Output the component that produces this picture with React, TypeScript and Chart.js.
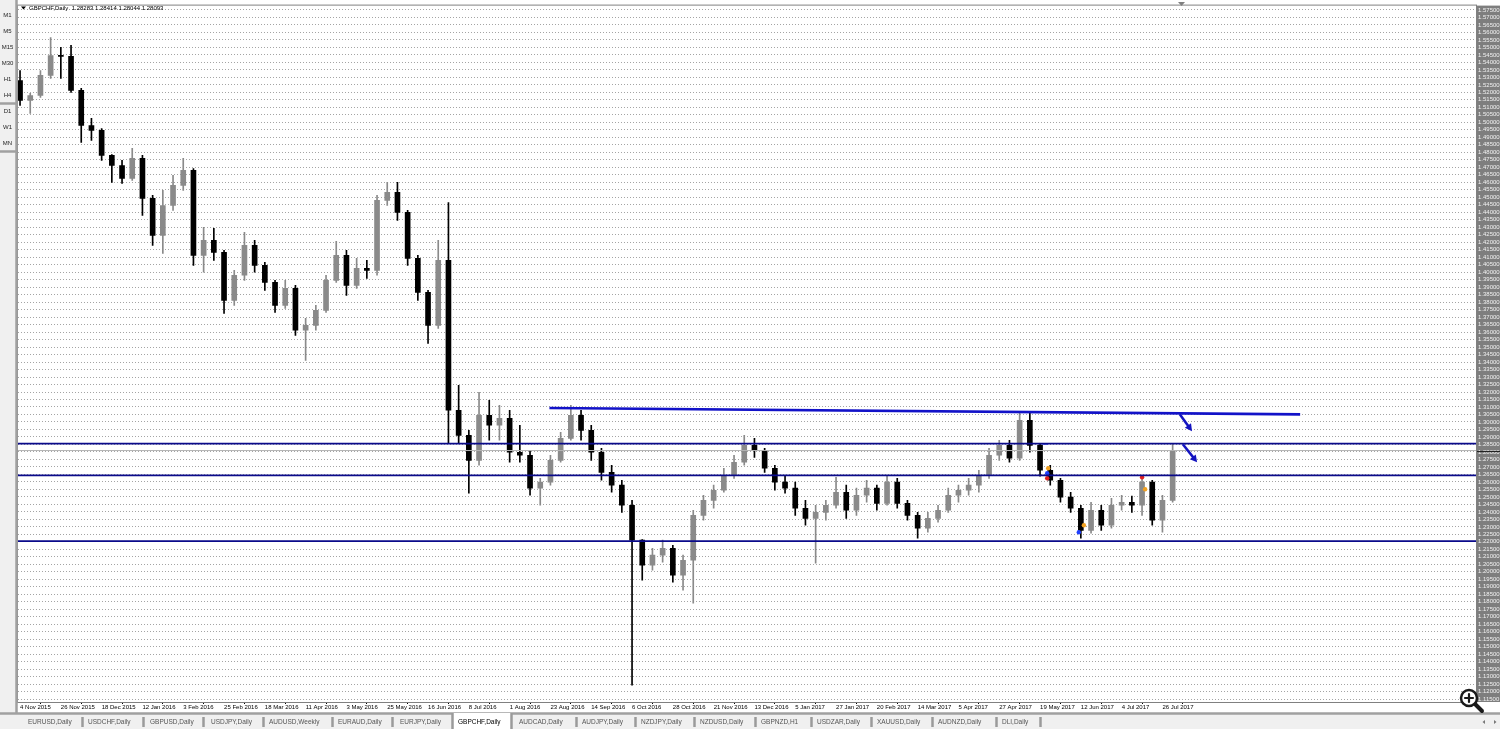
import React, { useEffect, useRef } from "react";
import { Chart, registerables } from "chart.js";

Chart.register(...registerables);

const FONT = "'Liberation Sans', Arial, sans-serif";

// ---- Data (GBPCHF daily, aggregated) ----
const openP = [
  1.5279, 1.5146, 1.5179, 1.5313, 1.5446, 1.544, 1.5213, 1.4979, 1.4946, 1.4779,
  1.4712, 1.4626, 1.4759, 1.4492, 1.4245, 1.4445, 1.4579, 1.4679, 1.4112, 1.4212,
  1.4132, 1.3812, 1.3979, 1.4179, 1.4045, 1.3932, 1.3778, 1.3892, 1.3612, 1.3645,
  1.3745, 1.3945, 1.4112, 1.3912, 1.4025, 1.4012, 1.4479, 1.4532, 1.4399, 1.4092,
  1.3865, 1.3645, 1.4079, 1.3078, 1.2911, 1.2744, 1.3045, 1.2978, 1.3025, 1.2798,
  1.2778, 1.2558, 1.2598, 1.2744, 1.2891, 1.3045, 1.2944, 1.2798, 1.2664, 1.2578,
  1.2444, 1.2211, 1.2044, 1.2111, 1.2157, 1.1977, 1.2077, 1.2377, 1.2477, 1.2544,
  1.2644, 1.2731, 1.2844, 1.2811, 1.2691, 1.2598, 1.2558, 1.2424, 1.2357, 1.2397,
  1.2444, 1.2531, 1.2411, 1.2511, 1.2558, 1.2457, 1.2598, 1.2457, 1.2377, 1.2291,
  1.2357, 1.2411, 1.2511, 1.2544, 1.2578, 1.2644, 1.2778, 1.2844, 1.2758, 1.3011,
  1.2844, 1.2678, 1.2611, 1.2498, 1.2424, 1.2277, 1.2411, 1.2311, 1.2444, 1.2464,
  1.2444, 1.2598, 1.2344, 1.2477,
];
const highP = [
  1.5346, 1.5193, 1.5346, 1.5566, 1.55, 1.5513, 1.5226, 1.5026, 1.4959, 1.4785,
  1.4746, 1.4826, 1.4779, 1.4512, 1.4546, 1.4646, 1.4759, 1.4692, 1.4299, 1.4292,
  1.4145, 1.4012, 1.4265, 1.4212, 1.4065, 1.3945, 1.3945, 1.3912, 1.3692, 1.3778,
  1.3979, 1.4205, 1.4145, 1.4092, 1.4079, 1.4512, 1.4599, 1.4599, 1.4412, 1.4112,
  1.3878, 1.4212, 1.4465, 1.3245, 1.2944, 1.3198, 1.3145, 1.3111, 1.3078, 1.2978,
  1.2811, 1.2624, 1.2778, 1.2931, 1.3111, 1.3078, 1.2978, 1.2824, 1.2711, 1.2611,
  1.2477, 1.2215, 1.2157, 1.2211, 1.2177, 1.2111, 1.2411, 1.2511, 1.2578, 1.2691,
  1.2778, 1.2911, 1.2891, 1.2824, 1.2711, 1.2644, 1.2598, 1.2477, 1.2444, 1.2477,
  1.2631, 1.2578, 1.2558, 1.2611, 1.2578, 1.2644, 1.2624, 1.2477, 1.2397, 1.2397,
  1.2444, 1.2558, 1.2578, 1.2624, 1.2678, 1.2824, 1.2878, 1.2878, 1.3058, 1.3058,
  1.2858, 1.2711, 1.2624, 1.2531, 1.2444, 1.2464, 1.2444, 1.2491, 1.2511, 1.2505,
  1.2638, 1.2611, 1.2511, 1.2851,
];
const lowP = [
  1.5113, 1.5059, 1.5166, 1.5293, 1.5293, 1.5199, 1.4866, 1.4879, 1.4746, 1.4599,
  1.4592, 1.4612, 1.4379, 1.4179, 1.4125, 1.4412, 1.4546, 1.4045, 1.3999, 1.4079,
  1.3725, 1.3778, 1.3945, 1.3999, 1.3878, 1.3732, 1.3758, 1.3578, 1.3411, 1.3612,
  1.3732, 1.3932, 1.3845, 1.3892, 1.3958, 1.3979, 1.4445, 1.4345, 1.4045, 1.3812,
  1.3525, 1.3625, 1.2858, 1.2858, 1.2524, 1.2711, 1.2878, 1.2878, 1.2731, 1.2731,
  1.2511, 1.2444, 1.2578, 1.2731, 1.2878, 1.2878, 1.2744, 1.2611, 1.2531, 1.2397,
  1.1243, 1.1944, 1.2011, 1.2064, 1.193, 1.1877, 1.179, 1.2344, 1.2424, 1.2531,
  1.2624, 1.2711, 1.2764, 1.2664, 1.2544, 1.2524, 1.2377, 1.2311, 1.2057, 1.2344,
  1.2424, 1.2357, 1.2377, 1.2464, 1.2411, 1.2444, 1.2424, 1.2344, 1.2224, 1.2264,
  1.2331, 1.2397, 1.2464, 1.2511, 1.2531, 1.2624, 1.2744, 1.2731, 1.2744, 1.2798,
  1.2638, 1.2578, 1.2464, 1.2397, 1.2224, 1.2257, 1.2277, 1.2291, 1.2411, 1.2397,
  1.2377, 1.2311, 1.2264, 1.2464,
];
const closeP = [
  1.5146, 1.5179, 1.5313, 1.5446, 1.544, 1.5213, 1.4979, 1.4946, 1.4779, 1.4712,
  1.4626, 1.4759, 1.4492, 1.4245, 1.4445, 1.4579, 1.4679, 1.4112, 1.4212, 1.4132,
  1.3812, 1.3979, 1.4179, 1.4045, 1.3932, 1.3778, 1.3892, 1.3612, 1.3645, 1.3745,
  1.3945, 1.4112, 1.3912, 1.4025, 1.4012, 1.4479, 1.4532, 1.4399, 1.4092, 1.3865,
  1.3645, 1.4079, 1.3078, 1.2911, 1.2744, 1.3045, 1.2978, 1.3025, 1.2798, 1.2778,
  1.2558, 1.2598, 1.2744, 1.2891, 1.3045, 1.2944, 1.2798, 1.2664, 1.2578, 1.2444,
  1.2211, 1.2044, 1.2111, 1.2157, 1.1977, 1.2077, 1.2377, 1.2477, 1.2544, 1.2644,
  1.2731, 1.2844, 1.2811, 1.2691, 1.2598, 1.2558, 1.2424, 1.2357, 1.2397, 1.2444,
  1.2531, 1.2411, 1.2511, 1.2558, 1.2457, 1.2598, 1.2457, 1.2377, 1.2291, 1.2357,
  1.2411, 1.2511, 1.2544, 1.2578, 1.2644, 1.2778, 1.2844, 1.2758, 1.3011, 1.2844,
  1.2678, 1.2611, 1.2498, 1.2424, 1.2277, 1.2411, 1.2311, 1.2444, 1.2464, 1.2444,
  1.2598, 1.2344, 1.2477, 1.2809,
];

const xTickBars = [0, 4, 8, 12, 16, 20, 24, 28, 32, 36, 40, 44, 48, 52, 56, 60, 64, 68, 72, 76, 80, 84, 88, 92, 96, 100, 104, 108, 112];
const xTickLabels = [
  "4 Nov 2015", "26 Nov 2015", "18 Dec 2015", "12 Jan 2016", "3 Feb 2016", "25 Feb 2016",
  "18 Mar 2016", "11 Apr 2016", "3 May 2016", "25 May 2016", "16 Jun 2016", "8 Jul 2016",
  "1 Aug 2016", "23 Aug 2016", "14 Sep 2016", "6 Oct 2016", "28 Oct 2016", "21 Nov 2016",
  "13 Dec 2016", "5 Jan 2017", "27 Jan 2017", "20 Feb 2017", "14 Mar 2017", "5 Apr 2017",
  "27 Apr 2017", "19 May 2017", "12 Jun 2017", "4 Jul 2017", "26 Jul 2017",
];

const X_MIN = -0.2;
const X_MAX = 142.74;
const Y_MIN = 1.1131;
const Y_MAX = 1.5779;
const Y_STEP = 0.005;

const levelPrices = [1.2856, 1.2644, 1.2205];
const trendBars = [51.9, 125.5];
const trendPrices = [1.3093, 1.3051];
const bidPrice = 1.28093;
const arrowFromBars = [113.7, 114.0];
const arrowFromPrices = [1.3051, 1.2851];
const arrowToBars = [114.9, 115.4];
const arrowToPrices = [1.2938, 1.2731];
const dashBars = [100.2, 100.8];
const dashPrice = 1.2851;
const markerBars = [100.7, 100.8, 100.7, 103.8, 104.3, 110.0, 110.3];
const markerPrices = [1.2658, 1.2691, 1.2624, 1.2264, 1.2311, 1.2631, 1.2551];
const markerColors = ["#2040ff", "#f0a020", "#e02020", "#2040ff", "#f0a020", "#e02020", "#f0a020"];

const headerText = "GBPCHF,Daily  1.28283 1.28414 1.28044 1.28093";
const timeframes = ["M1", "M5", "M15", "M30", "H1", "H4", "D1", "W1", "MN"];
const tabLabels = [
  "EURUSD,Daily", "USDCHF,Daily", "GBPUSD,Daily", "USDJPY,Daily", "AUDUSD,Weekly",
  "EURAUD,Daily", "EURJPY,Daily", "GBPCHF,Daily", "AUDCAD,Daily", "AUDJPY,Daily",
  "NZDJPY,Daily", "NZDUSD,Daily", "GBPNZD,H1", "USDZAR,Daily", "XAUUSD,Daily",
  "AUDNZD,Daily", "DLI,Daily",
];
const activeTab = 7;

// ---- layout constants (UI chrome) ----
const TAB_X = [28, 88, 150, 211, 269, 338, 400, 458, 519, 582, 641, 700, 761, 817, 877, 938, 1002];
const TAB_SEP = [82, 143, 203, 263, 332, 392, 452, 511, 576, 635, 694, 755, 811, 871, 932, 996, 1040];

const BULL = "#8a8a8a";
const BEAR = "#000000";

const bgPlugin = {
  id: "mtBackground",
  beforeDraw(chart: any) {
    const { ctx, width, height, chartArea: ca } = chart;
    ctx.save();
    ctx.fillStyle = "#ffffff";
    ctx.fillRect(0, 0, width, height);
    ctx.fillStyle = "#7e7e7e";
    ctx.fillRect(ca.right, ca.top, width - ca.right, ca.bottom - ca.top);
    ctx.restore();
  },
};

const overlayPlugin = {
  id: "mtOverlay",
  afterDraw(chart: any) {
    const { ctx, width, height, chartArea: ca } = chart;
    const xs = chart.scales.x;
    const ys = chart.scales.y;
    ctx.save();

    // bid marker on price axis
    const by = Math.round(ys.getPixelForValue(bidPrice)) + 0.5;
    ctx.strokeStyle = "#222";
    ctx.lineWidth = 1;
    ctx.beginPath();
    ctx.moveTo(ca.right, by);
    ctx.lineTo(width, by);
    ctx.stroke();

    // frame
    ctx.strokeStyle = "#808080";
    ctx.lineWidth = 1;
    ctx.strokeRect(ca.left - 0.5, ca.top - 0.5, ca.right - ca.left + 1, ca.bottom - ca.top + 1);

    // arrows
    for (let i = 0; i < arrowFromBars.length; i++) {
      const x1 = xs.getPixelForValue(arrowFromBars[i]);
      const y1 = ys.getPixelForValue(arrowFromPrices[i]);
      const x2 = xs.getPixelForValue(arrowToBars[i]);
      const y2 = ys.getPixelForValue(arrowToPrices[i]);
      const a = Math.atan2(y2 - y1, x2 - x1);
      ctx.strokeStyle = "#1414c0";
      ctx.fillStyle = "#1414c0";
      ctx.lineWidth = 2.5;
      ctx.beginPath();
      ctx.moveTo(x1, y1);
      ctx.lineTo(x2 - Math.cos(a) * 4, y2 - Math.sin(a) * 4);
      ctx.stroke();
      const L = 7, W = 3.8;
      ctx.beginPath();
      ctx.moveTo(x2, y2);
      ctx.lineTo(x2 - Math.cos(a) * L - Math.sin(a) * W, y2 - Math.sin(a) * L + Math.cos(a) * W);
      ctx.lineTo(x2 - Math.cos(a) * L + Math.sin(a) * W, y2 - Math.sin(a) * L - Math.cos(a) * W);
      ctx.closePath();
      ctx.fill();
    }

    // header
    ctx.fillStyle = "#000";
    ctx.beginPath();
    ctx.moveTo(21, 6.5);
    ctx.lineTo(26, 6.5);
    ctx.lineTo(23.5, 9.5);
    ctx.closePath();
    ctx.fill();
    ctx.font = `6px ${FONT}`;
    ctx.textBaseline = "middle";
    ctx.textAlign = "left";
    ctx.fillText(headerText, 29, 8.5);

    // top chart-shift marker
    ctx.fillStyle = "#808080";
    ctx.beginPath();
    ctx.moveTo(1178, 2);
    ctx.lineTo(1185, 2);
    ctx.lineTo(1181.5, 6);
    ctx.closePath();
    ctx.fill();

    // left sidebar
    ctx.fillStyle = "#f0f0f0";
    ctx.fillRect(0, 0, 16, 713);
    ctx.strokeStyle = "#a0a0a0";
    ctx.beginPath();
    ctx.moveTo(16.5, 0);
    ctx.lineTo(16.5, 713);
    ctx.moveTo(0, 103.5);
    ctx.lineTo(16, 103.5);
    ctx.moveTo(0, 151.5);
    ctx.lineTo(16, 151.5);
    ctx.stroke();
    ctx.fillStyle = "#222";
    ctx.font = `6px ${FONT}`;
    ctx.textAlign = "center";
    timeframes.forEach((t, k) => ctx.fillText(t, 7.5, 15 + 16 * k));

    // bottom tabs
    ctx.fillStyle = "#f0f0f0";
    ctx.fillRect(0, 713, width, height - 713);
    ctx.strokeStyle = "#a0a0a0";
    ctx.beginPath();
    ctx.moveTo(0, 713.5);
    ctx.lineTo(width, 713.5);
    ctx.stroke();
    ctx.fillStyle = "#ffffff";
    ctx.fillRect(TAB_SEP[activeTab - 1], 713, TAB_SEP[activeTab] - TAB_SEP[activeTab - 1], 16);
    ctx.strokeStyle = "#9a9a9a";
    ctx.beginPath();
    TAB_SEP.forEach((sx, k) => {
      if (k === activeTab - 1 || k === activeTab) {
        ctx.moveTo(sx + 0.5, 713);
        ctx.lineTo(sx + 0.5, 729);
      } else {
        ctx.moveTo(sx + 0.5, 717);
        ctx.lineTo(sx + 0.5, 727);
      }
    });
    ctx.stroke();
    ctx.font = `6.5px ${FONT}`;
    ctx.textAlign = "left";
    tabLabels.forEach((t, k) => {
      ctx.fillStyle = k === activeTab ? "#000" : "#555";
      ctx.fillText(t, TAB_X[k], 722);
    });
    ctx.fillStyle = "#777";
    ctx.beginPath();
    ctx.moveTo(1485, 720);
    ctx.lineTo(1485, 724);
    ctx.lineTo(1482.5, 722);
    ctx.closePath();
    ctx.moveTo(1494, 720);
    ctx.lineTo(1494, 724);
    ctx.lineTo(1496.5, 722);
    ctx.closePath();
    ctx.fill();

    // magnifier
    ctx.strokeStyle = "#1a1a1a";
    ctx.lineCap = "round";
    ctx.lineWidth = 4;
    ctx.beginPath();
    ctx.moveTo(1475, 704);
    ctx.lineTo(1482, 711);
    ctx.stroke();
    ctx.fillStyle = "#ffffff";
    ctx.lineWidth = 2.5;
    ctx.beginPath();
    ctx.arc(1469, 698, 8, 0, Math.PI * 2);
    ctx.fill();
    ctx.stroke();
    ctx.lineWidth = 2.2;
    ctx.beginPath();
    ctx.moveTo(1465, 698);
    ctx.lineTo(1473, 698);
    ctx.moveTo(1469, 694);
    ctx.lineTo(1469, 702);
    ctx.stroke();

    ctx.restore();
  },
};

export default function App() {
  const canvasRef = useRef<HTMLCanvasElement | null>(null);

  useEffect(() => {
    const canvas = canvasRef.current;
    if (!canvas) return;

    const bodyData = closeP.map((c, i) => ({ x: i, y: [Math.min(openP[i], c), Math.max(openP[i], c)] }));
    const wickData = closeP.map((c, i) => ({ x: i, y: [lowP[i], highP[i]] }));
    const candleColors = closeP.map((c, i) => (c >= openP[i] ? BULL : BEAR));

    const levelSets = levelPrices.map((p) => ({
      type: "line" as const,
      data: [{ x: X_MIN, y: p }, { x: X_MAX, y: p }],
      borderColor: "#0a0a8a",
      borderWidth: 1.8,
      pointRadius: 0,
      order: 0,
    }));

    const chart = new Chart(canvas, {
      type: "bar",
      data: {
        datasets: [
          ...levelSets,
          {
            type: "line",
            data: [{ x: X_MIN, y: bidPrice }, { x: X_MAX, y: bidPrice }],
            borderColor: "#b4b4b4",
            borderWidth: 1,
            pointRadius: 0,
            order: 0,
          },
          {
            type: "line",
            data: trendBars.map((b, i) => ({ x: b, y: trendPrices[i] })),
            borderColor: "#1212c8",
            borderWidth: 2.6,
            pointRadius: 0,
            order: 0,
          },
          {
            type: "line",
            data: dashBars.map((b) => ({ x: b, y: dashPrice })),
            borderColor: "#4a5cff",
            borderWidth: 1,
            pointRadius: 0,
            order: 0,
          },
          {
            type: "line",
            data: markerBars.map((b, i) => ({ x: b, y: markerPrices[i] })),
            showLine: false,
            pointRadius: 2.2,
            pointBorderWidth: 0,
            pointBackgroundColor: markerColors,
            order: 0,
          },
          {
            type: "bar",
            data: bodyData as any,
            backgroundColor: candleColors,
            barThickness: 5,
            minBarLength: 1,
            grouped: false,
            order: 1,
          },
          {
            type: "bar",
            data: wickData as any,
            backgroundColor: candleColors,
            barThickness: 1,
            grouped: false,
            order: 2,
          },
        ] as any,
      },
      options: {
        animation: false,
        responsive: false,
        maintainAspectRatio: false,
        events: [],
        layout: { padding: { left: 18, top: 5, right: 0, bottom: 0 } },
        plugins: { legend: { display: false }, tooltip: { enabled: false } },
        scales: {
          x: {
            type: "linear",
            position: "bottom",
            min: X_MIN,
            max: X_MAX,
            offset: false,
            grid: { display: true, drawOnChartArea: false, drawTicks: true, tickLength: 2, color: "#000" },
            border: { display: false },
            ticks: {
              autoSkip: false,
              maxRotation: 0,
              minRotation: 0,
              align: "start",
              padding: 0,
              color: "#000",
              font: { size: 6, family: FONT },
              callback: (_v: any, i: number) => xTickLabels[i],
            },
            afterBuildTicks: (s: any) => {
              s.ticks = xTickBars.map((v) => ({ value: v }));
            },
            afterFit: (s: any) => {
              s.height = 27;
            },
          },
          y: {
            type: "linear",
            position: "right",
            min: Y_MIN,
            max: Y_MAX,
            grid: { color: "#a4a4a4", drawTicks: false, lineWidth: 1 },
            border: { display: false, dash: [1, 2] },
            ticks: {
              stepSize: Y_STEP,
              includeBounds: false,
              autoSkip: false,
              padding: 2,
              color: "#f2f2f2",
              font: { size: 6, family: FONT },
              callback: (v: any) => Number(v).toFixed(5),
            },
            afterFit: (s: any) => {
              s.width = 24;
            },
          },
        },
      } as any,
      plugins: [bgPlugin, overlayPlugin],
    });

    return () => chart.destroy();
  }, []);

  return (
    <div style={{ position: "fixed", left: 0, top: 0, width: 1500, height: 729 }}>
      <canvas ref={canvasRef} width={1500} height={729} style={{ display: "block", width: 1500, height: 729 }} />
    </div>
  );
}
